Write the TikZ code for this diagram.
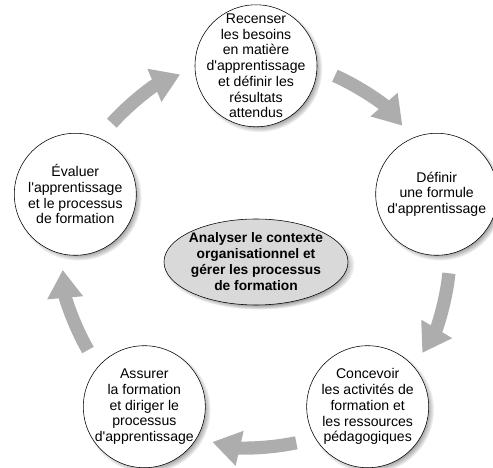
\documentclass[tikz,border=0pt]{standalone}
\usepackage{fontspec}
\setmainfont{Liberation Sans}[Ligatures=TeXOff]
\usetikzlibrary{shapes.geometric,shadows,arrows.meta}
\tikzstyle{stage}=[shape=circle,
                draw=black,
                fill=white,
                thin,
                minimum size=3.05cm,
                inner sep=-0.5cm,
                align=center,
                font=\fontsize{10}{11.2}\selectfont,
                circular drop shadow={shadow xshift=2pt,shadow yshift=-2pt,shadow scale=1.04}]
\tikzstyle{hub}=[shape=ellipse,
                draw=black,
                fill=black!15,
                thin,
                minimum width=4.6cm,
                minimum height=2.15cm,
                inner sep=-0.6cm,
                align=center,
                font=\bfseries\fontsize{9.8}{11.4}\selectfont,
                circular drop shadow={shadow xshift=2pt,shadow yshift=-2pt,shadow scale=1.04}]
\tikzstyle{cyc}=[draw=black!32,
                line width=0.33cm]

\begin{document}
\begin{tikzpicture}[>={Triangle[length=0.7cm,width=0.85cm]}]
\useasboundingbox (-6.4,-5.375) rectangle (5.925,6.325);

% stages of the cycle
\node[stage] (s1) at (90:4.68)   {Recenser\\les besoins\\en matière\\d'apprentissage\\et définir les\\résultats\\attendus};
\node[stage] (s2) at (18:4.75)   {Définir\\une formule\\d'apprentissage};
\node[stage] (s3) at (-54:4.75)  {Concevoir\\les activités de\\formation et\\les ressources\\pédagogiques};
\node[stage] (s4) at (-126:4.75) {Assurer\\la formation\\et diriger le\\processus\\d'apprentissage};
\node[stage] (s5) at (162:4.75)  {Évaluer\\l'apprentissage\\et le processus\\de formation};

% centre
\node[hub] (ctx) at (0,-0.225) {Analyser le contexte\\organisationnel et\\gérer les processus\\de formation};

% arrows
\coordinate (a1) at (138:4.85);
\coordinate (a2) at (66:4.85);
\coordinate (a3) at (-6:4.85);
\coordinate (a4) at (-78:4.85);
\coordinate (a5) at (-150:4.85);

\draw[cyc,->] (a1) arc[start angle=138, end angle=113, radius=4.85];
\draw[cyc,->] (a2) arc[start angle=66, end angle=41, radius=4.85];
\draw[cyc,->] (a3) arc[start angle=-6, end angle=-31, radius=4.85];
\draw[cyc,->] (a4) arc[start angle=-78, end angle=-103, radius=4.85];
\draw[cyc,->] (a5) arc[start angle=-150, end angle=-175, radius=4.85];

\end{tikzpicture}
\end{document}
